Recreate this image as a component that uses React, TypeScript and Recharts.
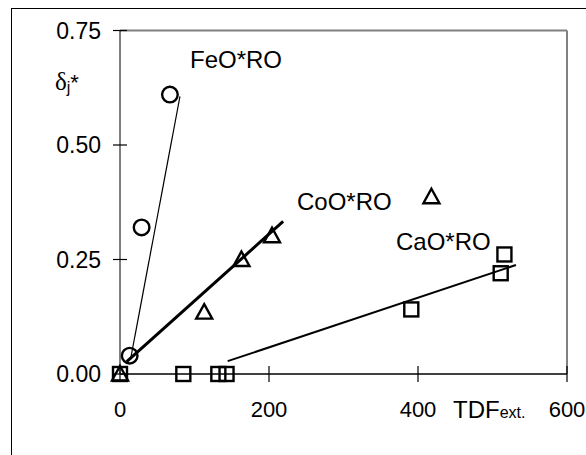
import React from "react";
import { ScatterChart, Scatter, XAxis, YAxis, ReferenceLine } from "recharts";

// measured points
const feoPoints = [
  { x: 13, y: 0.04 },
  { x: 29, y: 0.32 },
  { x: 67, y: 0.61 },
];
const cooPoints = [
  { x: 0, y: 0 },
  { x: 113, y: 0.135 },
  { x: 163, y: 0.25 },
  { x: 204, y: 0.302 },
  { x: 418, y: 0.387 },
];
const caoPoints = [
  { x: 0, y: 0 },
  { x: 85, y: 0 },
  { x: 132, y: 0 },
  { x: 143, y: 0 },
  { x: 391, y: 0.141 },
  { x: 511, y: 0.22 },
  { x: 516, y: 0.261 },
];

// fitted lines
const feoFit = [
  { x: 14, y: 0.031 },
  { x: 80.5, y: 0.606 },
];
const cooFit = [
  { x: 9, y: 0.027 },
  { x: 219, y: 0.333 },
];
const caoFit = [
  { x: 144.5, y: 0.028 },
  { x: 531.5, y: 0.238 },
];

const xTicks = [0, 200, 400, 600];
const yTicks = [0, 0.25, 0.5, 0.75];

const FONT = "'Liberation Sans', Arial, sans-serif";

const XTick = (props: any) => {
  const { x, y, payload } = props;
  return (
    <g>
      <line x1={x} x2={x} y1={y - 8} y2={y + 8} stroke="#000" strokeWidth={1.2} />
      <text x={x} y={y + 43} textAnchor="middle" fontSize={22} fontFamily={FONT} fill="#000">
        {payload.value}
      </text>
    </g>
  );
};

const YTick = (props: any) => {
  const { x, y, payload } = props;
  return (
    <g>
      <line x1={x - 7} x2={x + 7} y1={y} y2={y} stroke="#000" strokeWidth={1.2} />
      <text x={x - 19} y={y + 8} textAnchor="end" fontSize={23} fontFamily={FONT} fill="#000">
        {Number(payload.value).toFixed(2)}
      </text>
    </g>
  );
};

const Circle = (props: any) => (
  <circle cx={props.cx} cy={props.cy} r={7.8} fill="none" stroke="#000" strokeWidth={2.4} />
);

const Triangle = (props: any) => {
  const { cx, cy } = props;
  return (
    <path
      d={`M${cx},${cy - 8} L${cx + 8},${cy + 6.5} L${cx - 8},${cy + 6.5} Z`}
      fill="none"
      stroke="#000"
      strokeWidth={2.4}
    />
  );
};

const Square = (props: any) => (
  <rect x={props.cx - 7} y={props.cy - 7} width={14} height={14} fill="none" stroke="#000" strokeWidth={2.4} />
);

const NoShape = () => <g />;

export default function App() {
  return (
    <div style={{ position: "absolute", left: 0, top: 0, width: 586, height: 455, overflow: "hidden", background: "#fff" }}>
      <div
        style={{
          position: "absolute",
          left: 11,
          top: 8,
          width: 620,
          height: 480,
          borderLeft: "1.5px solid #000",
          borderTop: "1.5px solid #000",
        }}
      />
      <div style={{ position: "absolute", left: 0, top: 0 }}>
        <ScatterChart width={586} height={455} margin={{ top: 30.5, right: 19, bottom: 41, left: 10 }}>
          <XAxis
            type="number"
            dataKey="x"
            domain={[0, 600]}
            ticks={xTicks}
            tickSize={0}
            tickMargin={0}
            tickLine={false}
            tick={<XTick />}
            axisLine={{ stroke: "#000", strokeWidth: 1.5 }}
            height={40}
            interval={0}
          />
          <YAxis
            type="number"
            dataKey="y"
            domain={[0, 0.75]}
            ticks={yTicks}
            tickSize={0}
            tickMargin={0}
            tickLine={false}
            tick={<YTick />}
            axisLine={{ stroke: "#000", strokeWidth: 1 }}
            width={110}
            interval={0}
          />
          <ReferenceLine y={0.75} stroke="#808080" strokeWidth={2} />
          <ReferenceLine x={600} stroke="#808080" strokeWidth={2} />
          <Scatter data={feoPoints} shape={<Circle />} isAnimationActive={false} />
          <Scatter data={cooPoints} shape={<Triangle />} isAnimationActive={false} />
          <Scatter data={caoPoints} shape={<Square />} isAnimationActive={false} />
          <Scatter
            data={feoFit}
            line={{ stroke: "#000", strokeWidth: 1.2 }}
            shape={<NoShape />}
            isAnimationActive={false}
          />
          <Scatter
            data={cooFit}
            line={{ stroke: "#000", strokeWidth: 3 }}
            shape={<NoShape />}
            isAnimationActive={false}
          />
          <Scatter
            data={caoFit}
            line={{ stroke: "#000", strokeWidth: 2 }}
            shape={<NoShape />}
            isAnimationActive={false}
          />
        </ScatterChart>
      </div>
      <svg width={586} height={455} style={{ position: "absolute", left: 0, top: 0, pointerEvents: "none" }}>
        <g fontFamily={FONT} fontSize={24} fill="#000">
          <text x={190} y={68}>FeO*RO</text>
          <text x={297} y={210}>CoO*RO</text>
          <text x={396} y={250}>CaO*RO</text>
          <text x={453} y={418}>
            TDF<tspan fontSize={16}>ext.</tspan>
          </text>
          <text x={55} y={90}>
            <tspan fontFamily="'Liberation Serif', 'Times New Roman', serif" fontSize={25}>δ</tspan>
            <tspan fontSize={16} dy={3}>j</tspan>
            <tspan dy={-3} fontSize={22}>*</tspan>
          </text>
        </g>
      </svg>
    </div>
  );
}
